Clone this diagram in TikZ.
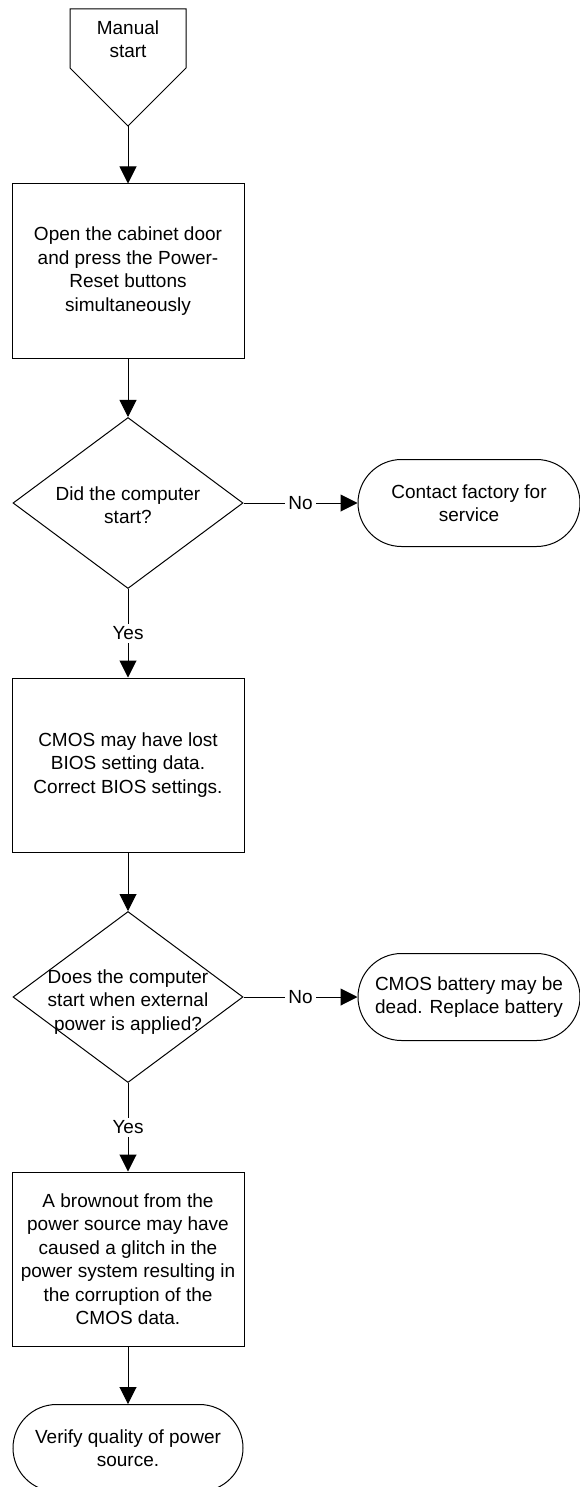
\documentclass[tikz,border=0pt]{standalone}
\usepackage{fontspec}
\setmainfont{Liberation Sans}
\usetikzlibrary{shapes.geometric,arrows.meta}

\begin{document}
\begin{tikzpicture}[x=1pt, y=-1pt, line width=1pt,
    font=\fontsize{19}{23.5}\selectfont,
    process/.style={rectangle, draw, minimum width=232, minimum height=174, align=center},
    decision/.style={diamond, draw, minimum width=230, minimum height=171, inner sep=0},
    terminal/.style={rectangle, draw, rounded corners=43.5, minimum width=230, minimum height=87, align=center},
    flow/.style={-{Triangle[length=17pt,width=17pt]}},
    tag/.style={fill=white, inner sep=3pt}]
  \useasboundingbox (0,0) rectangle (580,1487);
  \clip (0,0) rectangle (580,1487);

  % Nodes
  \draw (70,9) -- (186,9) -- (186,68) -- (128,126) -- (70,68) -- cycle;
  \draw (128,39) node(start) [align=center] {Manual\\start};
  \coordinate (tip) at (128,126);

  \draw (128,271) node(open) [process] {Open the cabinet door\\and press the Power-\\Reset buttons\\simultaneously};

  \draw (128,503) node(q1) [decision] {};
  \draw (128,505) node(q1txt) [align=center] {Did the computer\\start?};
  \draw (469,503) node(factory) [terminal, minimum width=222] {Contact factory for\\service};

  \draw (128,765) node(cmos) [process] {CMOS may have lost\\BIOS setting data.\\Correct BIOS settings.};

  \draw (128,997) node(q2) [decision] {};
  \draw (128,1002) node(q2txt) [align=center] {Does the computer\\start when external\\power is applied?};
  \draw (469,997) node(battery) [terminal, minimum width=222] {CMOS battery may be\\dead. Replace battery};

  \draw (128,1259) node(brown) [process] {A brownout from the\\power source may have\\caused a glitch in the\\power system resulting in\\the corruption of the\\CMOS data.};

  \draw (128,1448) node(verify) [terminal] {Verify quality of power\\source.};

  % Edges
  \path[flow] (tip) edge (open);
  \path[flow] (open) edge (q1);
  \path[flow] (q1) edge node[tag] {No} (factory);
  \path[flow] (q1) edge node[tag] {Yes} (cmos);
  \path[flow] (cmos) edge (q2);
  \path[flow] (q2) edge node[tag] {No} (battery);
  \path[flow] (q2) edge node[tag] {Yes} (brown);
  \path[flow] (brown) edge (verify);

\end{tikzpicture}
\end{document}
